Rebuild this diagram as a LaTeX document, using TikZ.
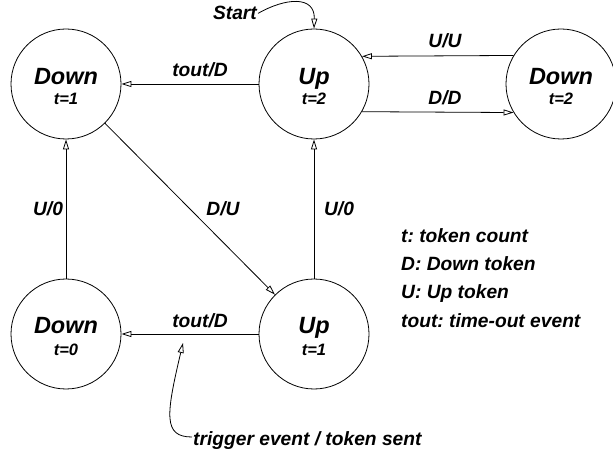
\documentclass[tikz,border=0pt]{standalone}
\usepackage{fontspec}
\setmainfont{Liberation Sans}
\usetikzlibrary{arrows.meta}
\frenchspacing
\begin{document}
\begin{tikzpicture}[x=1pt,y=-1pt,
  state/.style={circle, draw, line width=0.8pt, minimum size=110pt, inner sep=0pt},
  nametxt/.style={font=\fontsize{23.5}{28}\selectfont\bfseries\itshape, inner sep=0pt, anchor=base},
  counttxt/.style={font=\fontsize{16.5}{20}\selectfont\bfseries\itshape, inner sep=0pt, anchor=base},
  lbl/.style={font=\fontsize{19.2}{23}\selectfont\bfseries\itshape\frenchspacing, inner sep=1pt, anchor=base},
  legend/.style={lbl, anchor=base west},
  trans/.style={draw, line width=0.8pt, -{Triangle[open, length=10pt, width=6pt]}},
]
\useasboundingbox (0,0) rectangle (613,454);

% states
\node[state] (down1) at (66,84) {};
\node[state] (up2)   at (314,84) {};
\node[state] (down2) at (561,84) {};
\node[state] (down0) at (66,334) {};
\node[state] (up1)   at (314,334) {};

% state names and token counts
\node[nametxt]  (down1n) at (66,84.5)  {Down};
\node[counttxt] (down1c) at (66,105)   {t=1};
\node[nametxt]  (up2n)   at (314,84.5) {Up};
\node[counttxt] (up2c)   at (314,105)  {t=2};
\node[nametxt]  (down2n) at (561,84.5) {Down};
\node[counttxt] (down2c) at (561,105)  {t=2};
\node[nametxt]  (down0n) at (66,334)   {Down};
\node[counttxt] (down0c) at (66,355)   {t=0};
\node[nametxt]  (up1n)   at (314,334)  {Up};
\node[counttxt] (up1c)   at (314,355)  {t=1};

% transitions
\draw[trans] (up2) -- (down1);
\draw[trans] (down2.149.4) -- (up2.30.6);
\draw[trans] (up2.-30.6) -- (down2.-149.4);
\draw[trans] (down1) -- (up1);
\draw[trans] (up1) -- (up2);
\draw[trans] (down0) -- (down1);
\draw[trans] (up1) -- (down0);

% transition labels
\node[lbl] (l1) at (200,77)  {tout/D};
\node[lbl] (l2) at (445,48)  {U/U};
\node[lbl] (l3) at (445,105) {D/D};
\node[lbl] (l4) at (223,216) {D/U};
\node[lbl] (l5) at (339,216) {U/0};
\node[lbl] (l6) at (48,216)  {U/0};
\node[lbl] (l7) at (200,327) {tout/D};

% start marker
\node[lbl, anchor=base east] (start) at (258,20) {Start};
\draw[trans] (start.east) .. controls (285,-2) and (315,-5) .. (up2.north);

% trigger annotation
\node[lbl, anchor=base west] (trig) at (192,445) {trigger event / token sent};
\coordinate (trigfoot) at (192,437);
\coordinate (trigtip) at (183,343);
\draw[trans] (trigfoot) .. controls (163,437) and (166,415) .. (trigtip);

% legend
\node[legend] (k1) at (400,243) {t: token count};
\node[legend] (k2) at (400,271) {D: Down token};
\node[legend] (k3) at (400,299) {U: Up token};
\node[legend] (k4) at (400,327) {tout: time-out event};
\end{tikzpicture}
\end{document}
